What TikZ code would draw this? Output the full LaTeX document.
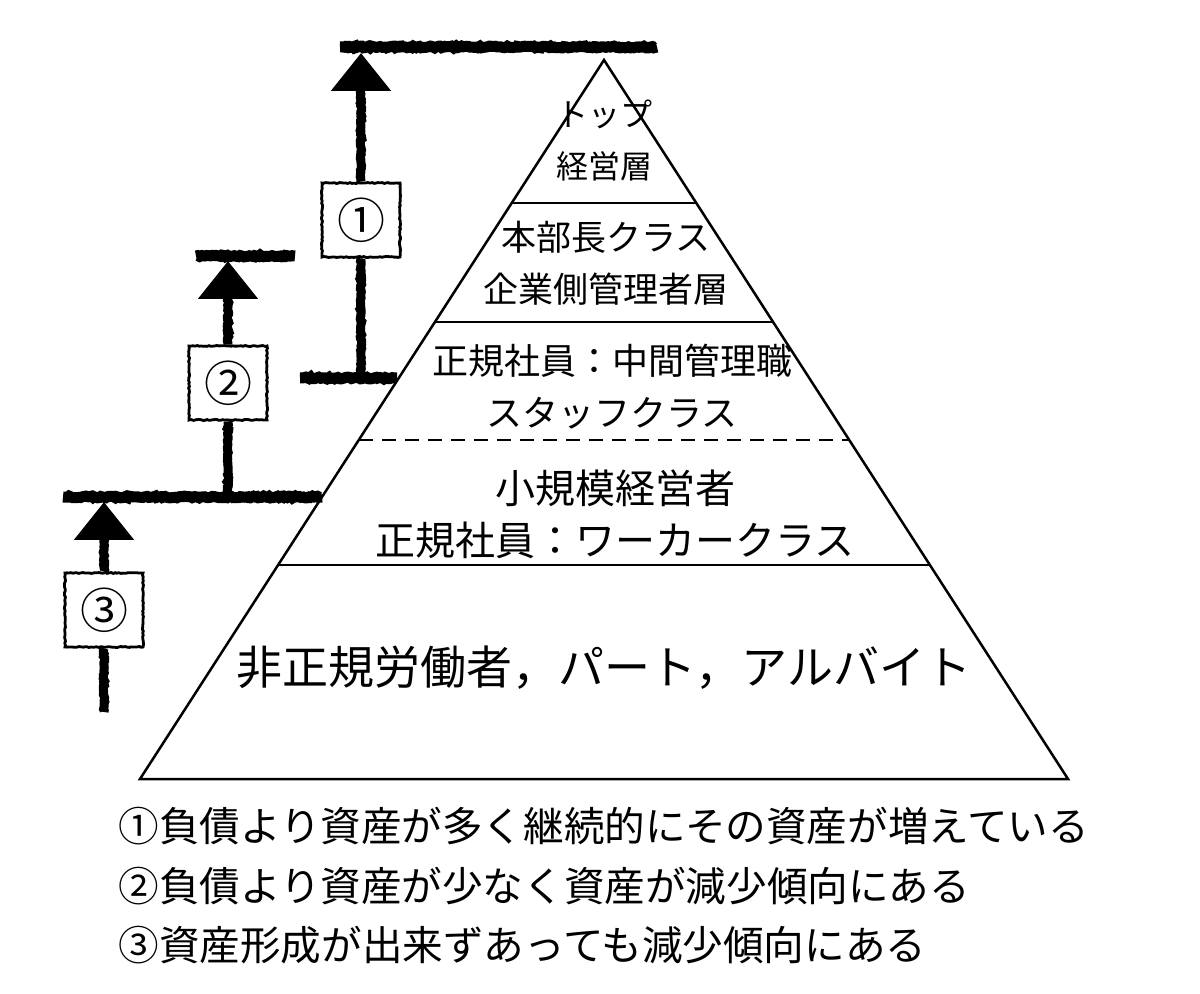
\documentclass[tikz,border=0pt]{standalone}
\usepackage{fontspec}
\setmainfont{Noto Sans CJK JP}
\usetikzlibrary{arrows.meta,decorations.pathmorphing,calc,positioning}

\newcommand{\TierFont}[1]{\fontsize{#1}{26pt}\selectfont}
\newcommand{\LegendFont}{\fontsize{20.3pt}{24pt}\selectfont}

\begin{document}
\begin{tikzpicture}[x=0.5pt,y=-0.5pt]
    \tikzset{
        pyramid line/.style={line width=1.25pt, line join=miter},
        tier label/.style={align=center, inner sep=0pt},
        rough bar/.style={decorate, line width=5.5pt,
            decoration={random steps, segment length=1pt, amplitude=0.45pt}},
        rough shaft/.style={decorate, line width=4.5pt,
            -{Triangle[length=19pt,width=29pt]},
            decoration={random steps, segment length=1pt, amplitude=0.4pt,
                post=lineto, post length=14pt}},
        rough stem/.style={decorate, line width=4.5pt,
            decoration={random steps, segment length=1pt, amplitude=0.4pt}},
        step box/.style={draw, decorate, line width=1.4pt, fill=white,
            decoration={random steps, segment length=1pt, amplitude=0.25pt},
            minimum width=39pt, minimum height=37pt, inner sep=0pt,
            font=\fontsize{24pt}{24pt}\selectfont}
    }
    \useasboundingbox (0,0) rectangle (1200,994);

    % pyramid
    \coordinate (pyramid-apex) at (604,60);
    \coordinate (pyramid-left) at (140,779);
    \coordinate (pyramid-right) at (1068,779);
    \draw[pyramid line] (pyramid-apex) -- (pyramid-right) -- (pyramid-left) -- cycle;
    \foreach \t in {0.1989,0.3644,0.7024} {
        \draw[pyramid line] ($(pyramid-apex)!\t!(pyramid-left)$)
            -- ($(pyramid-apex)!\t!(pyramid-right)$);
    }
    \draw[pyramid line, dash pattern=on 7pt off 4.5pt]
        ($(pyramid-apex)!0.5285!(pyramid-left)$) -- ($(pyramid-apex)!0.5285!(pyramid-right)$);

    \node[tier label, font=\TierFont{16pt}] (tier-top) at (604,141) {トップ\\経営層};
    \node[tier label, font=\TierFont{17.5pt}] (tier-head) at (606,263) {本部長クラス\\企業側管理者層};
    \node[tier label, font=\TierFont{18pt}] (tier-middle) at (612,387) {正規社員：中間管理職\\スタッフクラス};
    \node[tier label, font=\TierFont{20pt}] (tier-worker) at (615,514) {小規模経営者\\正規社員：ワーカークラス};
    \node[tier label, font=\TierFont{23pt}] (tier-base) at (604,668) {非正規労働者，パート，アルバイト};

    % steps
    \coordinate (bar-1-west) at (340,47);  \coordinate (bar-1-east) at (657,47);
    \coordinate (bar-2-west) at (196,256); \coordinate (bar-2-east) at (295,256);
    \coordinate (bar-3-west) at (300,378); \coordinate (bar-3-east) at (397,378);
    \coordinate (bar-4-west) at (63,497);  \coordinate (bar-4-east) at (322,497);
    \foreach \bar in {1,...,4} {
        \draw[rough bar] (bar-\bar-west) -- (bar-\bar-east);
    }

    \node[step box] (step-1) at (361,220) {①};
    \node[step box] (step-2) at (228,383) {②};
    \node[step box] (step-3) at (104,610) {③};

    \coordinate (step-1-tip) at (361,53);
    \coordinate (step-2-tip) at (228,261);
    \coordinate (step-3-tip) at (104,502);
    \coordinate (step-3-root) at (104,712);

    \draw[rough shaft] (step-1.north) -- (step-1-tip);
    \draw[rough stem] (step-1.south) -- (step-1.south |- bar-3-east);
    \draw[rough shaft] (step-2.north) -- (step-2-tip);
    \draw[rough stem] (step-2.south) -- (step-2.south |- bar-4-east);
    \draw[rough shaft] (step-3.north) -- (step-3-tip);
    \draw[rough stem] (step-3.south) -- (step-3-root);

    % legend
    \node[anchor=west, inner sep=0pt, font=\LegendFont] (legend-1) at (118,826)
        {①負債より資産が多く継続的にその資産が増えている};
    \node[anchor=west, inner sep=0pt, font=\LegendFont] (legend-2) at (118,886)
        {②負債より資産が少なく資産が減少傾向にある};
    \node[anchor=west, inner sep=0pt, font=\LegendFont] (legend-3) at (118,945)
        {③資産形成が出来ずあっても減少傾向にある};
\end{tikzpicture}
\end{document}
